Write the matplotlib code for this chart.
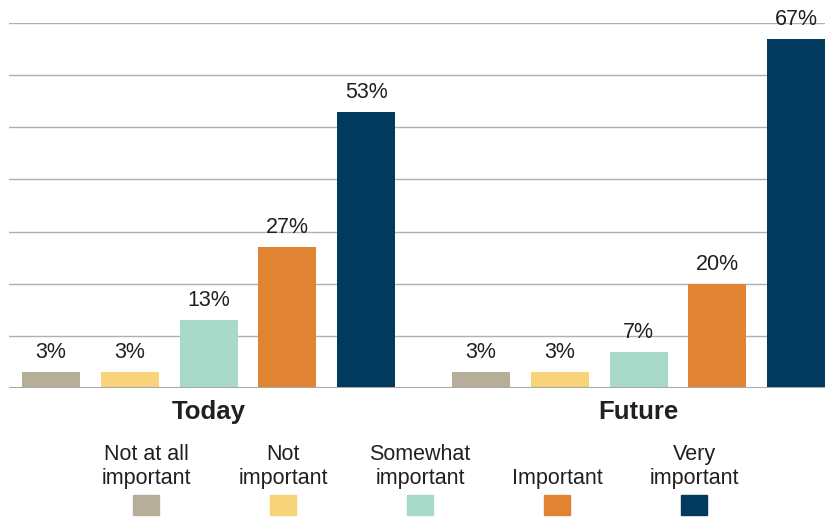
import matplotlib.pyplot as plt
from matplotlib.patches import Rectangle
import numpy as np

plt.rcParams['font.family'] = ['Liberation Sans', 'DejaVu Sans']

# Data
groups = ["Today", "Future"]
categories = ["Not at all\nimportant", "Not\nimportant", "Somewhat\nimportant",
              "Important", "Very\nimportant"]
today_values = [3, 3, 13, 27, 53]
future_values = [3, 3, 7, 20, 67]
colors = ["#b6ae98", "#f8d37a", "#a8d9c9", "#e08433", "#023a5d"]

text_color = "#231f20"
grid_color = "#b0b0b0"

fig = plt.figure(figsize=(8.25, 5.24), dpi=100)
W, H = 825, 524
ax = fig.add_axes([9 / W, 1 - 388 / H, 1 - 9 / W, (388 - 23) / H])

unit = 78.8
bar_width = 58 / unit
group_offset = 430 / unit
first_center = 42 / unit

for g, vals in enumerate([today_values, future_values]):
    xs = first_center + g * group_offset + np.arange(len(vals))
    bars = ax.bar(xs, vals, width=bar_width, color=colors, zorder=3)
    for x, v in zip(xs, vals):
        ax.annotate(f"{v}%", (x, v), xytext=(0, 10), textcoords="offset points",
                    ha="center", va="baseline", fontsize=15.5, color=text_color)
    ax.text(xs[2], -2.3, groups[g], ha="center", va="top", fontsize=18.5,
            fontweight="bold", color=text_color)

ax.set_xlim(0, 816 / unit)
ax.set_ylim(0, 70)
ax.set_yticks(np.arange(0, 71, 10))
ax.set_yticklabels([])
ax.set_xticks([])
ax.tick_params(length=0)
ax.yaxis.grid(True, color=grid_color, linewidth=1)
ax.set_axisbelow(True)
for s in ax.spines.values():
    s.set_visible(False)
ax.axhline(0, color="#a8a8a8", linewidth=2.2, zorder=4)

# Legend
legend_x = [146, 283, 420, 557, 694]
for lx, lab, c in zip(legend_x, categories, colors):
    fig.text(lx / W, 1 - 489 / H, lab, ha="center", va="bottom", fontsize=15.5,
             color=text_color, linespacing=1.2)
    fig.add_artist(Rectangle(((lx - 13) / W, 1 - 515 / H), 26 / W, 20 / H,
                             transform=fig.transFigure, color=c))

fig.savefig("out.png", dpi=100)
